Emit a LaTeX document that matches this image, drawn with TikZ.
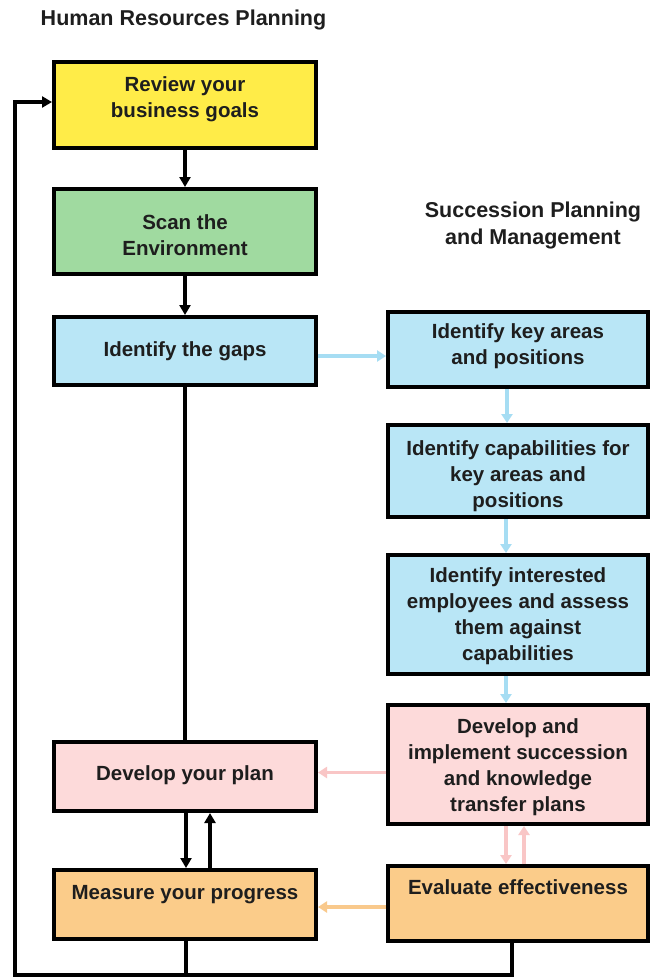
\documentclass[tikz,border=0pt]{standalone}
\usepackage{fontspec}
\setmainfont{Liberation Sans}
\usetikzlibrary{arrows.meta}
\definecolor{cyel}{RGB}{255,236,72}
\definecolor{cgrn}{RGB}{160,218,160}
\definecolor{cblu}{RGB}{185,230,246}
\definecolor{cpnk}{RGB}{253,218,218}
\definecolor{corg}{RGB}{251,204,138}
\definecolor{ablu}{RGB}{166,221,243}
\definecolor{apnk}{RGB}{249,198,198}
\definecolor{aorg}{RGB}{249,201,140}
\definecolor{ttxt}{RGB}{30,30,30}
\begin{document}
\begin{tikzpicture}[x=1pt,y=-1pt,
  box/.style={draw=black, line width=4pt, inner sep=0pt, rectangle},
  lbox/.style={box, minimum width=262pt},
  rbox/.style={box, minimum width=260pt},
  txt/.style={align=center, inner sep=0pt, text=ttxt, font=\fontsize{20.5}{26}\selectfont\bfseries},
  ttl/.style={align=center, inner sep=0pt, text=ttxt, font=\fontsize{21.5}{27}\selectfont\bfseries},
  blk/.style={draw=black, line width=3.5pt, -{Triangle[length=10pt,width=11pt]}},
  blkline/.style={draw=black, line width=3.5pt},
  carr/.style={line width=3.5pt, -{Triangle[length=9pt,width=11pt]}}
]
\useasboundingbox (0,0) rectangle (653,980);
\fill[white] (0,0) rectangle (653,980);

% titles
\node[ttl] (t1) at (183.5,20) {Human Resources Planning};
\node[ttl] (t2) at (533,225) {Succession Planning\\and Management};

% left column
\node[lbox, fill=cyel, minimum height=86pt] (b1) at (185,105) {};
\node[txt] (tb1) at (185,99) {Review your\\business goals};
\node[lbox, fill=cgrn, minimum height=85pt] (b2) at (185,231.5) {};
\node[txt] (tb2) at (185,235) {Scan the\\Environment};
\node[lbox, fill=cblu, minimum height=68pt] (b3) at (185,351) {};
\node[txt] (tb3) at (185,351) {Identify the gaps};
\node[lbox, fill=cpnk, minimum height=69pt] (b4) at (185,776.5) {};
\node[txt] (tb4) at (185,775) {Develop your plan};
\node[lbox, fill=corg, minimum height=69pt] (b5) at (185,904.5) {};
\node[txt] (tb5) at (185,895) {Measure your progress};

% right column
\node[rbox, fill=cblu, minimum height=75pt] (r1) at (518,349.5) {};
\node[txt] (tr1) at (518,346) {Identify key areas\\and positions};
\node[rbox, fill=cblu, minimum height=92pt] (r2) at (518,471) {};
\node[txt] (tr2) at (518,476) {Identify capabilities for\\key areas and\\positions};
\node[rbox, fill=cblu, minimum height=119pt] (r3) at (518,614.5) {};
\node[txt] (tr3) at (518,616) {Identify interested\\employees and assess\\them against\\capabilities};
\node[rbox, fill=cpnk, minimum height=119pt] (r4) at (518,764.5) {};
\node[txt] (tr4) at (518,767) {Develop and\\implement succession\\and knowledge\\transfer plans};
\node[rbox, fill=corg, minimum height=75pt] (r5) at (518,903.5) {};
\node[txt] (tr5) at (518,887) {Evaluate effectiveness};

% black connectors
\draw[blk] (b1.south) -- (b2.north);
\draw[blk] (b2.south) -- (b3.north);
\draw[blkline] (b3.south) -- (b4.north);
\draw[blk] ([xshift=1pt]b4.south) -- ([xshift=1pt]b5.north);
\draw[blk] ([xshift=25pt]b5.north) -- ([xshift=25pt]b4.south);

\coordinate (cbm) at (186,975);
\coordinate (cbl) at (15,975);
\coordinate (ctl) at (15,102);
\draw[blkline, line join=miter] ([xshift=-6pt]r5.south) -- ([xshift=-6pt]r5.south |- cbm) -- (cbm);
\draw[blk, line join=miter] ([xshift=1pt]b5.south) -- (cbm) -- (cbl) -- (ctl) -- (ctl -| b1.west);

% coloured connectors
\draw[carr, ablu] ([yshift=-5pt]b3.east) -- ([yshift=-5pt]b3.east -| r1.west);
\draw[carr, ablu] ([xshift=-11pt]r1.south) -- ([xshift=-11pt]r2.north);
\draw[carr, ablu] ([xshift=-12pt]r2.south) -- ([xshift=-12pt]r3.north);
\draw[carr, ablu] ([xshift=-12pt]r3.south) -- ([xshift=-12pt]r4.north);
\draw[carr, apnk] ([yshift=-8pt]r4.west) -- ([yshift=-8pt]r4.west -| b4.east);
\draw[carr, apnk] ([xshift=-12pt]r4.south) -- ([xshift=-12pt]r5.north);
\draw[carr, apnk] ([xshift=6pt]r5.north) -- ([xshift=6pt]r4.south);
\draw[carr, aorg] ([yshift=-3.5pt]r5.west) -- ([yshift=-3.5pt]r5.west -| b5.east);
\end{tikzpicture}
\end{document}
